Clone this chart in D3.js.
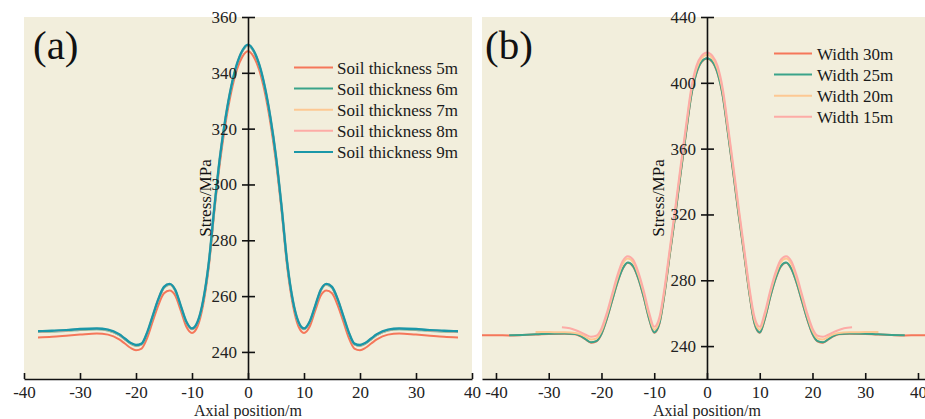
<!DOCTYPE html>
<html>
<head>
<meta charset="utf-8">
<script src="https://cdn.jsdelivr.net/npm/d3@7"></script>
<style>
  html, body { margin: 0; padding: 0; background: #ffffff; }
  svg { display: block; }
  text { font-family: "Liberation Serif", "Times New Roman", serif; }
</style>
</head>
<body>
<svg id="chart" width="925" height="419"></svg>
<script>
// ---------------- DATA ----------------
// Panel (a): soil thickness
const xA = [-37.5,-35,-32,-30,-27,-25,-23,-22,-21,-20,-19,-18,-17,-16,-15,-14,-13,-12,-11,-10,-9,-8,-7,-6,-5,-4,-3,-2,-1,0,
            1,2,3,4,5,6,7,8,9,10,11,12,13,14,15,16,17,18,19,20,21,22,23,25,27,30,32,35,37.5];
const soil5m = [245.2,245.4,245.9,246.2,246.6,246.2,244.5,243.0,241.5,240.6,241.2,245.0,251.0,256.8,261.0,262.0,260.2,254.8,249.0,246.8,249.2,257.0,270.5,290.5,308.0,322.0,333.0,341.0,345.8,347.7,
                345.8,341.0,333.0,322.0,308.0,290.5,270.5,257.0,249.2,246.8,249.0,254.8,260.2,262.0,261.0,256.8,251.0,245.0,241.2,240.6,241.5,243.0,244.5,246.2,246.6,246.2,245.9,245.4,245.2];
const soil6m = [247.1,247.3,247.6,247.9,248.1,247.7,246.0,244.5,243.0,242.2,242.7,246.7,252.7,258.7,263.0,264.1,262.0,256.2,250.5,248.1,250.5,258.2,271.7,291.7,309.7,323.7,334.7,342.7,347.7,349.8,
                347.7,342.7,334.7,323.7,309.7,291.7,271.7,258.2,250.5,248.1,250.5,256.2,262.0,264.1,263.0,258.7,252.7,246.7,242.7,242.2,243.0,244.5,246.0,247.7,248.1,247.9,247.6,247.3,247.1];
const soil7m = [247.2,247.4,247.7,248.0,248.2,247.8,246.1,244.6,243.1,242.3,242.8,246.8,252.8,258.8,263.1,264.2,262.1,256.3,250.6,248.2,250.6,258.3,271.8,291.8,309.8,323.8,334.8,342.8,347.8,349.9,
                347.8,342.8,334.8,323.8,309.8,291.8,271.8,258.3,250.6,248.2,250.6,256.3,262.1,264.2,263.1,258.8,252.8,246.8,242.8,242.3,243.1,244.6,246.1,247.8,248.2,248.0,247.7,247.4,247.2];
const soil8m = [247.3,247.5,247.8,248.1,248.3,247.9,246.2,244.7,243.2,242.4,242.9,246.9,252.9,258.9,263.2,264.3,262.2,256.4,250.7,248.3,250.7,258.4,271.9,291.9,309.9,323.9,334.9,342.9,347.9,350.0,
                347.9,342.9,334.9,323.9,309.9,291.9,271.9,258.4,250.7,248.3,250.7,256.4,262.2,264.3,263.2,258.9,252.9,246.9,242.9,242.4,243.2,244.7,246.2,247.9,248.3,248.1,247.8,247.5,247.3];
const soil9m = [247.4,247.6,247.9,248.2,248.4,248.0,246.3,244.8,243.3,242.5,243.0,247.0,253.0,259.0,263.3,264.4,262.3,256.5,250.8,248.4,250.8,258.5,272.0,292.0,310.0,324.0,335.0,343.0,348.0,350.1,
                348.0,343.0,335.0,324.0,310.0,292.0,272.0,258.5,250.8,248.4,250.8,256.5,262.3,264.4,263.3,259.0,253.0,247.0,243.0,242.5,243.3,244.8,246.3,248.0,248.4,248.2,247.9,247.6,247.4];
const namesA = ["Soil thickness 5m","Soil thickness 6m","Soil thickness 7m","Soil thickness 8m","Soil thickness 9m"];
const colorsA = ["#f5775a","#3aa38a","#fdc893","#fdaba6","#1a97a8"];
const xTicksA = [-40,-30,-20,-10,0,10,20,30,40];
const yTicksA = [240,260,280,300,320,340,360];

// Panel (b): width
const x30 = [-45,-40,-37.5,-35,-32,-30,-27,-25,-24,-23,-22,-21,-20,-19,-18,-17,-16,-15,-14,-13,-12,-11,-10,-9,-8,-7,-6,-5,-4,-3,-2,-1,0,
             1,2,3,4,5,6,7,8,9,10,11,12,13,14,15,16,17,18,19,20,21,22,23,24,25,27,30,32,35,37.5,40,45];
const width30 = [246.6,246.6,246.5,246.7,247.1,247.4,247.5,247.2,246.0,244.0,242.1,242.8,247.3,256.3,267.3,278.3,286.8,290.6,288.3,280.8,269.8,256.8,248.1,253.8,272.8,296.8,319.8,344.8,368.8,391.8,405.8,412.8,414.8,
                 412.8,405.8,391.8,368.8,344.8,319.8,296.8,272.8,253.8,248.1,256.8,269.8,280.8,288.3,290.6,286.8,278.3,267.3,256.3,247.3,242.8,242.1,244.0,246.0,247.2,247.5,247.4,247.1,246.7,246.5,246.6,246.6];
const x25 = [-37.5,-35,-32,-30,-27,-25,-24,-23,-22,-21,-20,-19,-18,-17,-16,-15,-14,-13,-12,-11,-10,-9,-8,-7,-6,-5,-4,-3,-2,-1,0,
             1,2,3,4,5,6,7,8,9,10,11,12,13,14,15,16,17,18,19,20,21,22,23,24,25,27,30,32,35,37.5];
const width25 = [246.6,246.8,247.2,247.5,247.6,247.3,246.2,244.2,242.3,243.0,247.5,256.5,267.5,278.5,287.0,290.8,288.5,281.0,270.0,257.0,248.3,254.0,273.0,297.0,320.0,345.0,369.0,392.0,406.0,413.0,415.0,
                 413.0,406.0,392.0,369.0,345.0,320.0,297.0,273.0,254.0,248.3,257.0,270.0,281.0,288.5,290.8,287.0,278.5,267.5,256.5,247.5,243.0,242.3,244.2,246.2,247.3,247.6,247.5,247.2,246.8,246.6];
const x20 = [-32.5,-30,-27,-25,-24,-23,-22,-21,-20,-19,-18,-17,-16,-15,-14,-13,-12,-11,-10,-9,-8,-7,-6,-5,-4,-3,-2,-1,0,
             1,2,3,4,5,6,7,8,9,10,11,12,13,14,15,16,17,18,19,20,21,22,23,24,25,27,30,32.5];
const width20 = [248.6,248.5,248.4,248.0,247.2,245.6,244.0,244.6,249.2,258.5,269.8,281.0,289.8,293.2,291.0,283.2,272.2,259.0,250.0,256.0,274.8,298.8,322.5,347.5,371.5,394.5,408.5,415.0,417.0,
                 415.0,408.5,394.5,371.5,347.5,322.5,298.8,274.8,256.0,250.0,259.0,272.2,283.2,291.0,293.2,289.8,281.0,269.8,258.5,249.2,244.6,244.0,245.6,247.2,248.0,248.4,248.5,248.6];
const x15 = [-27.5,-26,-25,-24,-23,-22,-21,-20,-19,-18,-17,-16,-15,-14,-13,-12,-11,-10,-9,-8,-7,-6,-5,-4,-3,-2,-1,0,
             1,2,3,4,5,6,7,8,9,10,11,12,13,14,15,16,17,18,19,20,21,22,23,24,25,26,27.5];
const width15 = [251.5,250.8,249.8,248.5,246.9,245.7,246.3,250.8,260.0,271.5,282.8,291.5,294.6,292.5,284.8,273.8,260.8,251.7,257.8,276.5,300.5,324.3,349.3,373.3,396.3,410.3,416.5,418.5,
                 416.5,410.3,396.3,373.3,349.3,324.3,300.5,276.5,257.8,251.7,260.8,273.8,284.8,292.5,294.6,291.5,282.8,271.5,260.0,250.8,246.3,245.7,246.9,248.5,249.8,250.8,251.5];
const namesB = ["Width 30m","Width 25m","Width 20m","Width 15m"];
const colorsB = ["#f5775a","#3aa38a","#fdc893","#fdaba6"];
const xTicksB = [-40,-30,-20,-10,0,10,20,30,40];
const yTicksB = [240,280,320,360,400,440];

// ---------------- DRAW ----------------
const svg = d3.select("#chart");
const BG = "#f2eedc";
const FONT = "Liberation Serif, Times New Roman, serif";

function drawPanel(cfg) {
  const g = svg.append("g");
  const x = d3.scaleLinear().domain(cfg.xDomain).range([cfg.left, cfg.right]);
  const y = d3.scaleLinear().domain(cfg.yDomain).range([cfg.bottom, cfg.top]);

  g.append("rect")
    .attr("x", cfg.left).attr("y", cfg.top)
    .attr("width", cfg.right - cfg.left).attr("height", cfg.bottom - cfg.top)
    .attr("fill", BG);

  const clipId = "clip-" + cfg.id;
  svg.append("defs").append("clipPath").attr("id", clipId)
    .append("rect")
    .attr("x", cfg.left).attr("y", cfg.top - 5)
    .attr("width", cfg.right - cfg.left).attr("height", cfg.bottom - cfg.top + 5);

  // series
  const line = d3.line().x(d => x(d[0])).y(d => y(d[1])).curve(d3.curveMonotoneX);
  const lg = g.append("g").attr("clip-path", `url(#${clipId})`);
  cfg.series.forEach((s, i) => {
    lg.append("path")
      .datum(d3.zip(s.xs, s.ys))
      .attr("fill", "none")
      .attr("stroke", cfg.colors[i])
      .attr("stroke-width", s.w || 2)
      .attr("stroke-linejoin", "round")
      .attr("d", line);
  });

  // x axis (ticks pointing up)
  const xAxis = g.append("g")
    .attr("transform", `translate(0,${cfg.bottom})`)
    .call(d3.axisBottom(x).tickValues(cfg.xTicks).tickSizeInner(-6).tickSizeOuter(0).tickPadding(6.5)
      .tickFormat(d => String(d)));
  xAxis.select(".domain").attr("stroke", "#111").attr("stroke-width", 1.6);
  xAxis.selectAll(".tick line").attr("stroke", "#111").attr("stroke-width", 1.6);
  xAxis.selectAll(".tick text").attr("fill", "#222").attr("font-size", 17)
    .attr("font-family", FONT);

  // y axis (crossing ticks)
  const yAxis = g.append("g")
    .attr("transform", `translate(${x(0)},0)`)
    .call(d3.axisLeft(y).tickValues(cfg.yTicks).tickSizeInner(6).tickSizeOuter(0).tickPadding(5)
      .tickFormat(d => String(d)));
  yAxis.select(".domain").attr("stroke", "#111").attr("stroke-width", 1.6);
  yAxis.selectAll(".tick line").attr("x1", 7).attr("stroke", "#111").attr("stroke-width", 1.6);
  yAxis.selectAll(".tick text").attr("fill", "#222").attr("font-size", 17)
    .attr("font-family", FONT);

  // axis titles
  g.append("text")
    .attr("x", x(0)).attr("y", 415.6)
    .attr("text-anchor", "middle").attr("font-size", 16).attr("fill", "#222")
    .text("Axial position/m");
  g.append("text")
    .attr("transform", `translate(${cfg.yTitleX},198) rotate(-90)`)
    .attr("text-anchor", "middle").attr("dy", "0.35em")
    .attr("font-size", 17).attr("fill", "#111")
    .text("Stress/MPa");

  // panel label
  g.append("text")
    .attr("x", cfg.labelX).attr("y", 59)
    .attr("font-size", 41).attr("fill", "#111")
    .text(cfg.label);

  // legend
  const leg = g.append("g");
  cfg.names.forEach((n, i) => {
    const yy = cfg.legY + i * cfg.legStep;
    leg.append("line")
      .attr("x1", cfg.legX1).attr("x2", cfg.legX2)
      .attr("y1", yy).attr("y2", yy)
      .attr("stroke", cfg.colors[i]).attr("stroke-width", 2);
    leg.append("text")
      .attr("x", cfg.legText).attr("y", yy + 6)
      .attr("font-size", 17).attr("fill", "#1a1a1a")
      .text(n);
  });
}

drawPanel({
  id: "a", label: "(a)", left: 24, right: 472, top: 17, bottom: 379,
  xDomain: [-40, 40], yDomain: [230.3, 360],
  xTicks: xTicksA, yTicks: yTicksA,
  series: [
    {xs: xA, ys: soil5m},
    {xs: xA, ys: soil6m},
    {xs: xA, ys: soil7m},
    {xs: xA, ys: soil8m},
    {xs: xA, ys: soil9m, w: 2.4}
  ],
  colors: colorsA, names: namesA,
  yTitleX: 205, labelX: 33,
  legX1: 294, legX2: 333, legText: 337, legY: 67.5, legStep: 21.1
});

drawPanel({
  id: "b", label: "(b)", left: 482, right: 925, top: 17, bottom: 379,
  xDomain: [-42.65, 41.33], yDomain: [220, 440],
  xTicks: xTicksB, yTicks: yTicksB,
  series: [
    {xs: x30, ys: width30},
    {xs: x25, ys: width25},
    {xs: x20, ys: width20},
    {xs: x15, ys: width15}
  ],
  colors: colorsB, names: namesB,
  yTitleX: 658, labelX: 485,
  legX1: 774, legX2: 812, legText: 817, legY: 53.5, legStep: 21.1
});
</script>
</body>
</html>
